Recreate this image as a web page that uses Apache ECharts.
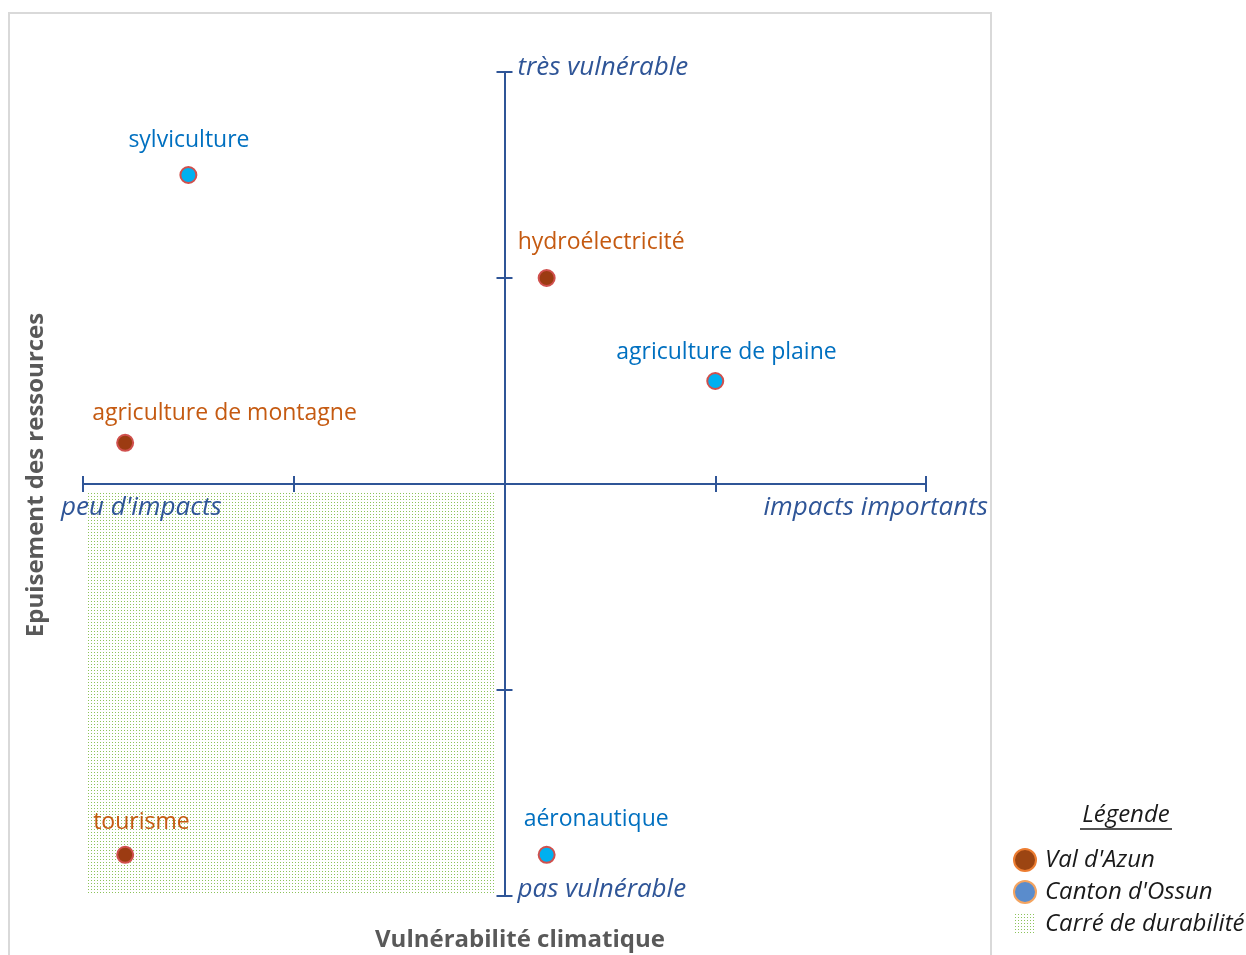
<!DOCTYPE html>
<html>
<head>
<meta charset="utf-8">
<title>Vulnérabilité climatique</title>
<script src="https://cdn.jsdelivr.net/npm/echarts@6/dist/echarts.min.js"></script>
<style>
  html, body { margin: 0; padding: 0; background: #fff; }
  #main { width: 1246px; height: 955px; }
</style>
</head>
<body>
<div id="main"></div>
<script>
// données (x = impacts, y = vulnérabilité)
var valAzunNames = ['hydroélectricité', 'agriculture de montagne', 'tourisme'];
var valAzunX = [0.1, -0.9, -0.9];
var valAzunY = [0.5, 0.1, -0.9];

var ossunNames = ['sylviculture', 'agriculture de plaine', 'aéronautique'];
var ossunX = [-0.75, 0.5, 0.1];
var ossunY = [0.75, 0.25, -0.9];

// carré de durabilité : [x0, y0, x1, y1]
var carre = [-0.99, -0.02, -0.024, -0.995];

var axisTicks = [-1, -0.5, 0, 0.5, 1];

// décalage des étiquettes (px, bord gauche / centre vertical du texte)
var labelShift = {
    'sylviculture': [-60, -35],
    'hydroélectricité': [-29, -36],
    'agriculture de plaine': [-99, -29],
    'agriculture de montagne': [-33, -29],
    'tourisme': [-32, -32],
    'aéronautique': [-23, -35]
};

var FONT = '"Open Sans", "DejaVu Sans", sans-serif';
var AXE = '#2F5597';

function makePattern() {
    var c = document.createElement('canvas');
    c.width = 3; c.height = 3;
    var ctx = c.getContext('2d');
    ctx.fillStyle = '#ffffff';
    ctx.fillRect(0, 0, 3, 3);
    ctx.fillStyle = '#8cc35a';
    ctx.fillRect(1, 1, 1, 1);
    return c;
}
var motif = { image: makePattern(), repeat: 'repeat' };

function buildPoints(names, xs, ys, labelColor) {
    return names.map(function (n, i) {
        return {
            name: n,
            value: [xs[i], ys[i]],
            label: {
                show: true,
                formatter: n,
                position: 'inside',
                align: 'left',
                verticalAlign: 'middle',
                offset: labelShift[n],
                color: labelColor,
                fontFamily: FONT,
                fontSize: 23
            }
        };
    });
}

var myChart = echarts.init(document.getElementById('main'));

// deux axes superposés : traits de graduation de part et d'autre de l'axe
function valueAxis(tickInside, pos) {
    return {
        type: 'value',
        position: pos,
        min: -1,
        max: 1,
        interval: 0.5,
        axisLine: { show: true, onZero: true, lineStyle: { color: AXE, width: 2 } },
        axisTick: { show: true, inside: tickInside, length: 8, lineStyle: { color: AXE, width: 2 } },
        axisLabel: { show: false },
        splitLine: { show: false }
    };
}

var option = {
    backgroundColor: '#ffffff',
    animation: false,
    grid: { left: 83, right: 320, top: 72, bottom: 59 },
    xAxis: [valueAxis(false, 'bottom'), valueAxis(true, 'bottom')],
    yAxis: [valueAxis(false, 'left'), valueAxis(true, 'left')],
    legend: {
        orient: 'vertical',
        left: 1008,
        top: 843,
        itemGap: 8,
        itemWidth: 22,
        itemHeight: 22,
        textStyle: { fontFamily: FONT, fontStyle: 'italic', fontSize: 24, color: '#1a1a1a', padding: [0, 0, 0, 4] },
        data: [
            { name: "Val d'Azun", icon: 'circle', itemStyle: { color: '#9c4512', borderColor: '#ED7D31', borderWidth: 2 } },
            { name: "Canton d'Ossun", icon: 'circle', itemStyle: { color: '#5a8ccc', borderColor: '#F4A460', borderWidth: 2 } },
            { name: 'Carré de durabilité', icon: 'rect', itemStyle: { color: motif, borderWidth: 0 } }
        ]
    },
    graphic: [
        {
            type: 'rect', silent: true, z: -10,
            shape: { x: 9, y: 13, width: 982, height: 960 },
            style: { fill: null, stroke: '#d9d9d9', lineWidth: 2 }
        },
        {
            type: 'text', silent: true, x: 520, y: 940, z: 100,
            style: { text: 'Vulnérabilité climatique', fill: '#595959',
                font: 'bold 24px ' + FONT, align: 'center', verticalAlign: 'middle' }
        },
        {
            type: 'text', silent: true, x: 36, y: 475, rotation: Math.PI / 2, z: 100,
            style: { text: 'Epuisement des ressources', fill: '#595959',
                font: 'bold 24px ' + FONT, align: 'center', verticalAlign: 'middle' }
        },
        {
            type: 'text', silent: true, x: 1126, y: 815, z: 100,
            style: { text: 'Légende', fill: '#1a1a1a', font: 'italic 24px ' + FONT,
                align: 'center', verticalAlign: 'middle' }
        },
        {
            type: 'line', silent: true, z: 100,
            shape: { x1: 1080, y1: 829, x2: 1172, y2: 829 },
            style: { stroke: '#1a1a1a', lineWidth: 1.3 }
        }
    ],
    series: [
        {
            name: 'Carré de durabilité',
            type: 'custom',
            z: 1,
            itemStyle: { color: motif },
            data: [carre],
            renderItem: function (params, api) {
                var p0 = api.coord([api.value(0), api.value(1)]);
                var p1 = api.coord([api.value(2), api.value(3)]);
                return {
                    type: 'rect',
                    shape: { x: p0[0], y: p0[1], width: p1[0] - p0[0], height: p1[1] - p0[1] },
                    style: { fill: motif }
                };
            }
        },
        {
            name: "Val d'Azun",
            type: 'scatter',
            z: 5,
            symbolSize: 16,
            itemStyle: { color: '#9c3b12', borderColor: '#d0504d', borderWidth: 2, opacity: 1 },
            data: buildPoints(valAzunNames, valAzunX, valAzunY, '#C55A11')
        },
        {
            name: "Canton d'Ossun",
            type: 'scatter',
            z: 5,
            symbolSize: 16,
            itemStyle: { color: '#00b0f0', borderColor: '#d0504d', borderWidth: 2, opacity: 1 },
            data: buildPoints(ossunNames, ossunX, ossunY, '#0070C0')
        }
    ]
};

myChart.setOption(option);

// libellés des extrémités des axes, placés à partir des axes
function axisEndTexts() {
    var top = myChart.convertToPixel({ gridIndex: 0 }, [0, axisTicks[axisTicks.length - 1]]);
    var bottom = myChart.convertToPixel({ gridIndex: 0 }, [0, axisTicks[0]]);
    var left = myChart.convertToPixel({ gridIndex: 0 }, [axisTicks[0], 0]);
    var right = myChart.convertToPixel({ gridIndex: 0 }, [axisTicks[axisTicks.length - 1], 0]);
    var st = 'italic 26px ' + FONT;
    var g = option.graphic.concat([
        { type: 'text', silent: true, z: 100, x: top[0] + 13, y: top[1] - 4,
          style: { text: 'très vulnérable', fill: AXE, font: st, align: 'left', verticalAlign: 'middle' } },
        { type: 'text', silent: true, z: 100, x: bottom[0] + 13, y: bottom[1] - 6,
          style: { text: 'pas vulnérable', fill: AXE, font: st, align: 'left', verticalAlign: 'middle' } },
        { type: 'text', silent: true, z: 100, x: left[0] - 22, y: left[1] + 24,
          style: { text: "peu d'impacts", fill: AXE, font: st, align: 'left', verticalAlign: 'middle' } },
        { type: 'text', silent: true, z: 100, x: right[0] + 62, y: right[1] + 24,
          style: { text: 'impacts importants', fill: AXE, font: st, align: 'right', verticalAlign: 'middle' } }
    ]);
    myChart.setOption({ graphic: g }, { replaceMerge: ['graphic'] });
}
axisEndTexts();

window.addEventListener('resize', function () {
    myChart.resize();
});
</script>
</body>
</html>
